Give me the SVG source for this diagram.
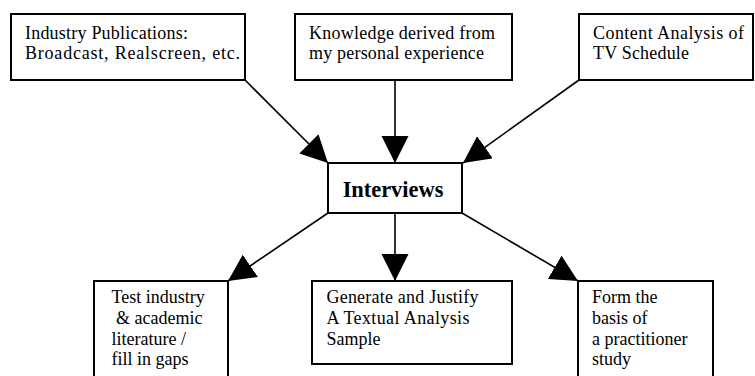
<svg xmlns="http://www.w3.org/2000/svg" width="755" height="376" viewBox="0 0 755 376">
<style>
rect.box{fill:#fff;stroke:#000;stroke-width:2}
text{font-family:"Liberation Serif","Times New Roman",serif;font-size:18px;fill:#000}
text.bold{font-weight:bold;font-size:22.4px}
.conn line{stroke:#000;stroke-width:1.6;marker-end:url(#ah)}
</style>
<defs>
<marker id="ah" markerUnits="userSpaceOnUse" markerWidth="28" markerHeight="28" refX="27" refY="13.5" orient="auto">
<path d="M0,0 L27,13.5 L0,27 Z" fill="#000"/>
</marker>
</defs>
<g id="connectors" class="conn">
<line x1="245" y1="80" x2="328" y2="163"/>
<line x1="395" y1="80" x2="395" y2="163"/>
<line x1="579" y1="80" x2="463" y2="163"/>
<line x1="328" y1="213" x2="228" y2="281"/>
<line x1="395" y1="213" x2="395" y2="281"/>
<line x1="462" y1="213" x2="578" y2="281"/>
</g>
<g id="n1">
<rect class="box" x="11" y="14" width="234" height="66"/>
<text x="25" y="38.5" textLength="163">Industry Publications:</text>
<text x="25" y="59" textLength="215">Broadcast, Realscreen, etc.</text>
</g>
<g id="n2">
<rect class="box" x="295" y="14" width="217" height="66"/>
<text x="309" y="38.5" textLength="186">Knowledge derived from</text>
<text x="309" y="59" textLength="175">my personal experience</text>
</g>
<g id="n3">
<rect class="box" x="579" y="14" width="174" height="66"/>
<text x="593" y="38.5" textLength="151">Content Analysis of</text>
<text x="593" y="59" textLength="96">TV Schedule</text>
</g>
<g id="interviews">
<rect class="box" x="328" y="163" width="134" height="50"/>
<text class="bold" x="393" y="197" text-anchor="middle">Interviews</text>
</g>
<g id="n4">
<rect class="box" x="94" y="281" width="134" height="100"/>
<text x="111.5" y="303">Test industry</text>
<text x="111.5" y="324" xml:space="preserve"> &amp; academic</text>
<text x="111.5" y="344.5">literature /</text>
<text x="111.5" y="365">fill in gaps</text>
</g>
<g id="n5">
<rect class="box" x="312" y="281" width="200" height="83"/>
<text x="326.5" y="303" textLength="152">Generate and Justify</text>
<text x="326.5" y="324" textLength="143">A Textual Analysis</text>
<text x="326.5" y="344.5">Sample</text>
</g>
<g id="n6">
<rect class="box" x="578" y="281" width="135" height="100"/>
<text x="592" y="303">Form the</text>
<text x="592" y="324">basis of</text>
<text x="592" y="344.5">a practitioner</text>
<text x="592" y="365">study</text>
</g>
</svg>
